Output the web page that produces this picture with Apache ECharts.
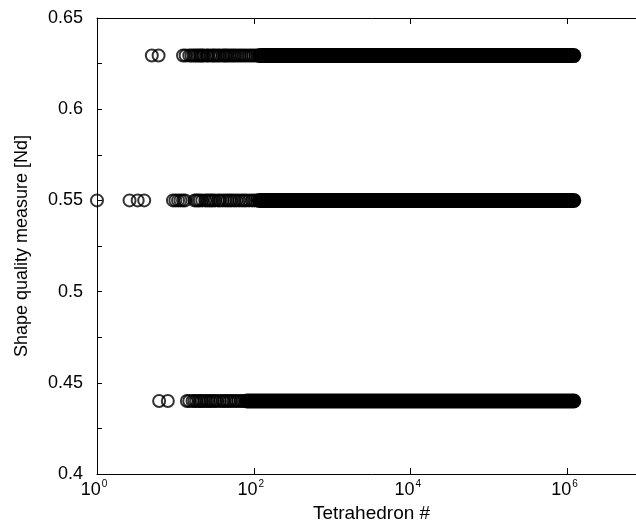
<!DOCTYPE html>
<html>
<head>
<meta charset="utf-8">
<script src="https://cdn.jsdelivr.net/npm/echarts@6/dist/echarts.min.js"></script>
<style>
html,body{margin:0;padding:0;background:#fff;overflow:hidden;}
#c{width:650px;height:528px;}
</style>
</head>
<body>
<div id="c"></div>
<script>
// Quality levels (y values of the three rows)
var levels = [0.6294, 0.55, 0.44];
// Sparse (individually visible) tetrahedron numbers for each level
var sparseTop = [5, 6.1, 12.5, 13.5, 15, 16, 17, 18, 19, 20, 21, 22, 23, 25, 26, 28, 30, 31, 33, 35, 37, 40, 42, 44, 46, 49, 52, 55, 58, 62, 66, 70, 75, 80, 86, 92, 98, 105, 112];
var sparseMid = [1, 2.6, 3.3, 4.0, 9.3, 10, 10.8, 11.6, 12.5, 13.3, 17.5, 18.5, 19.5, 20.5, 22, 24, 25.5, 27, 28.5, 30, 32, 35, 37, 40, 43, 46, 49, 52, 56, 60, 65, 70, 75, 80, 87, 95, 102, 110];
var sparseLow = [6.2, 8, 14, 15, 16.5, 17.5, 18.5, 20, 21, 22, 23.5, 25, 26.5, 28, 30, 32, 34, 37, 40, 42, 45, 48, 51, 55, 59, 63, 68, 72, 77];
// Dense (fully overplotted) ranges for each level
var bandStart = [120, 118, 82];
var bandEnd = [1.2e6, 1.2e6, 1.2e6];
// Tick labels
var yTickLabels = ['0.4', '0.45', '0.5', '0.55', '0.6', '0.65'];
var xTickExponents = [0, 2, 4, 6];

var font = 'Liberation Sans, Arial, Helvetica, sans-serif';
var sparseSets = [sparseTop, sparseMid, sparseLow];
var series = [];
sparseSets.forEach(function (xs, i) {
  series.push({
    type: 'scatter',
    symbol: 'circle',
    symbolSize: 12,
    itemStyle: { color: 'rgba(0,0,0,0)', borderColor: '#000', borderWidth: 2 },
    data: xs.map(function (x) { return [x, levels[i]]; }),
    silent: true
  });
  series.push({
    type: 'line',
    symbol: 'none',
    lineStyle: { color: '#000', width: 15, cap: 'round' },
    data: [[bandStart[i], levels[i]], [bandEnd[i], levels[i]]],
    silent: true
  });
});

function xLabel(v) {
  var e = Math.round(Math.log10(v));
  if (xTickExponents.indexOf(e) < 0) return '';
  return '{b|10}{s|' + e + '}';
}
function yLabel(v) {
  var s = String(+v.toFixed(3));
  return yTickLabels.indexOf(s) >= 0 ? s : '';
}

var xCommon = {
  type: 'log',
  logBase: 10,
  min: 1,
  max: 1e7,
  interval: 2,
  axisLine: { show: true, lineStyle: { color: '#000', width: 1 } },
  axisTick: { show: true, inside: true, length: 6, lineStyle: { color: '#000' } },
  splitLine: { show: false },
  minorTick: { show: false }
};

var chart = echarts.init(document.getElementById('c'), null, { renderer: 'canvas' });
chart.setOption({
  animation: false,
  backgroundColor: '#fff',
  grid: { left: 97, top: 18, width: 549, height: 458 },
  xAxis: [
    Object.assign({}, xCommon, {
      position: 'bottom',
      name: 'Tetrahedron #',
      nameLocation: 'middle',
      nameGap: 30,
      nameTextStyle: { color: '#000', fontSize: 19, fontFamily: font },
      axisLabel: {
        show: true,
        margin: 5,
        showMaxLabel: false,
        formatter: xLabel,
        padding: [0, 6, 0, 0],
        rich: {
          b: { color: '#000', fontSize: 18, fontFamily: font, verticalAlign: 'bottom', lineHeight: 20 },
          s: { color: '#000', fontSize: 10, fontFamily: font, verticalAlign: 'top', lineHeight: 20, padding: [0, 0, 0, 1] }
        }
      }
    }),
    Object.assign({}, xCommon, {
      position: 'top',
      axisLabel: { show: false }
    })
  ],
  yAxis: [
    {
      type: 'value',
      min: 0.4,
      max: 0.65,
      interval: 0.025,
      position: 'left',
      name: 'Shape quality measure [Nd]',
      nameLocation: 'middle',
      nameGap: 66,
      nameTextStyle: { color: '#000', fontSize: 18, fontFamily: font },
      axisLine: { show: true, lineStyle: { color: '#000', width: 1 } },
      axisTick: { show: true, inside: true, length: 5, lineStyle: { color: '#000' } },
      axisLabel: { color: '#000', fontSize: 18, fontFamily: font, margin: 14, formatter: yLabel },
      splitLine: { show: false }
    },
    {
      type: 'value',
      min: 0.4,
      max: 0.65,
      interval: 0.025,
      position: 'right',
      axisLine: { show: true, lineStyle: { color: '#000', width: 1 } },
      axisTick: { show: true, inside: true, length: 5 },
      axisLabel: { show: false },
      splitLine: { show: false }
    }
  ],
  series: series
});
</script>
</body>
</html>
